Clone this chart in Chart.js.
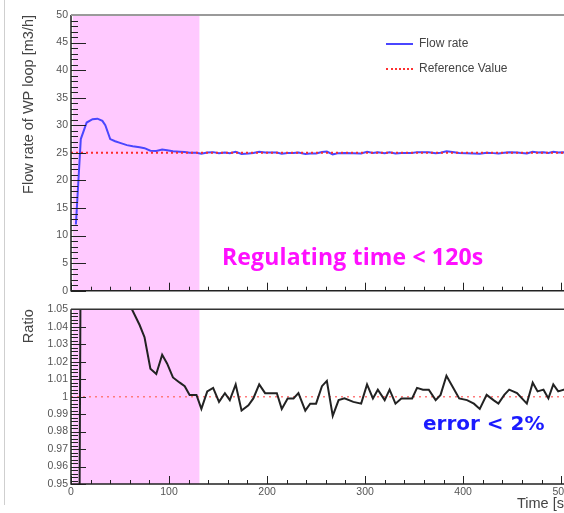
<!DOCTYPE html>
<html>
<head>
<meta charset="utf-8">
<script src="https://cdn.jsdelivr.net/npm/chart.js@4.4.1/dist/chart.umd.min.js"></script>
<style>
  html, body { margin: 0; padding: 0; background: #fff; overflow: hidden; }
  #wrap { position: relative; width: 564px; height: 513px; overflow: hidden; }
  canvas { position: absolute; left: 0; }
  #flowChart { top: 0; }
  #ratioChart { top: 300px; }
  .edge { position: absolute; left: 4px; top: 0; width: 1px; height: 505px; background: #cfcfcf; }
  .legend { position: absolute; left: 386px; font-family: 'Liberation Sans', Arial, sans-serif; font-size: 12px; color: #444; line-height: 14px; }
  .legend span.key { display: inline-block; width: 27px; height: 0; vertical-align: middle; margin-right: 6px; }
  .note { position: absolute; font-weight: bold; white-space: nowrap; line-height: 1; }
</style>
</head>
<body>
<div id="wrap">
  <canvas id="flowChart" width="580" height="300"></canvas>
  <canvas id="ratioChart" width="580" height="213"></canvas>
  <div class="edge"></div>
  <div class="legend" style="top:36px"><span class="key" style="border-top:2px solid #4a46ff"></span>Flow rate</div>
  <div class="legend" style="top:61px"><span class="key" style="border-top:2px dotted #ff3030"></span>Reference Value</div>
  <div class="note" style="left:222px; top:245px; font-size:23px; letter-spacing:0.15px; color:#ff10ff; font-family:'Open Sans', Lato, sans-serif">Regulating time &lt; 120s</div>
  <div class="note" style="left:423px; top:413px; font-size:20px; color:#1a1aff; font-family:'DejaVu Sans', Verdana, sans-serif">error &lt; 2%</div>
</div>
<script>
// 数据
const times = [5, 10, 16, 22, 27, 32, 35, 40, 45, 50,
  57, 63, 70, 75, 81, 87, 93, 98, 104, 111,
  116, 121, 128, 133, 139, 145, 151, 157, 162, 168,
  174, 181, 186, 192, 198, 204, 210, 215, 221, 227,
  232, 239, 244, 250, 256, 261, 267, 273, 279, 288,
  296, 302, 308, 313, 320, 325, 331, 337, 348, 353,
  359, 365, 372, 377, 383, 389, 396, 404, 411, 417,
  424, 431, 436, 442, 447, 455, 465, 471, 476, 482,
  487, 492, 497, 503, 508];

const flowRate = [12.0, 27.5, 30.5, 31.1, 31.2, 30.8, 30.0, 27.5, 27.1, 26.8,
  26.4, 26.2, 26.0, 25.85, 25.4, 25.33, 25.6, 25.48, 25.28, 25.2,
  25.15, 25.03, 25.03, 24.83, 25.08, 25.13, 24.93, 25.05, 24.95, 25.18,
  24.8, 24.88, 24.98, 25.18, 25.05, 25.05, 25.05, 24.83, 24.98, 24.98,
  25.05, 24.8, 24.9, 24.9, 25.15, 25.23, 24.73, 24.95, 24.98, 24.93,
  24.9, 25.18, 24.98, 25.1, 24.95, 25.1, 24.9, 24.98, 24.98, 25.13,
  25.1, 25.1, 24.95, 25.03, 25.3, 25.15, 24.98, 24.95, 24.9, 24.83,
  25.03, 24.95, 24.9, 25.03, 25.1, 25.05, 24.9, 25.2, 25.08, 25.1,
  24.98, 25.18, 25.08, 25.1, 25.05];

const ratio = [0.48, 1.10, 1.22, 1.244, 1.248, 1.232, 1.20, 1.10, 1.084, 1.072,
  1.056, 1.049, 1.041, 1.034, 1.016, 1.013, 1.024, 1.019, 1.011, 1.008,
  1.006, 1.001, 1.001, 0.993, 1.003, 1.005, 0.997, 1.002, 0.998, 1.007,
  0.992, 0.995, 0.999, 1.007, 1.002, 1.002, 1.002, 0.993, 0.999, 0.999,
  1.002, 0.992, 0.996, 0.996, 1.006, 1.009, 0.989, 0.998, 0.999, 0.997,
  0.996, 1.007, 0.999, 1.004, 0.998, 1.004, 0.996, 0.999, 0.999, 1.005,
  1.004, 1.004, 0.998, 1.001, 1.012, 1.006, 0.999, 0.998, 0.996, 0.993,
  1.001, 0.998, 0.996, 1.001, 1.004, 1.002, 0.996, 1.008, 1.003, 1.004,
  0.999, 1.007, 1.003, 1.004, 1.002];

const referenceValue = 25;
const referenceRatio = 1;
const regulatingWindow = [2, 131];   // 粉色调节区间 [s]
const timeRange = [0, 507];
const flowRange = [0, 50];
const ratioRange = [0.95, 1.05];

// 刻度标签
const timeTicks = [0, 100, 200, 300, 400, 500];
const flowTicks = [0, 5, 10, 15, 20, 25, 30, 35, 40, 45, 50];
const ratioTicks = [0.95, 0.96, 0.97, 0.98, 0.99, 1, 1.01, 1.02, 1.03, 1.04, 1.05];

const labelFont = { family: "'Liberation Sans', Arial, sans-serif", size: 10.5 };
const titleFont = { family: "'Liberation Sans', Arial, sans-serif", size: 14.5 };

// 粉色区间 + ROOT 风格的内侧刻度和边框
const panelDeco = {
  id: 'panelDeco',
  beforeDatasetsDraw(chart, args, opts) {
    const { ctx, chartArea: a, scales: { x } } = chart;
    const x0 = x.getPixelForValue(regulatingWindow[0]);
    const x1 = x.getPixelForValue(regulatingWindow[1]);
    ctx.save();
    ctx.fillStyle = '#ffc9ff';
    ctx.fillRect(x0, a.top, x1 - x0, a.bottom - a.top);
    ctx.restore();
  },
  afterDatasetsDraw(chart, args, opts) {
    const { ctx, chartArea: a, scales: { x, y } } = chart;
    ctx.save();
    ctx.strokeStyle = '#222';
    ctx.lineWidth = 1;
    ctx.beginPath();
    // y 轴刻度
    const ny = Math.round((y.max - y.min) / opts.yMinor);
    for (let i = 0; i <= ny; i++) {
      const py = Math.round(y.getPixelForValue(y.min + i * opts.yMinor)) + 0.5;
      const len = i % opts.yEvery === 0 ? 15 : 7;
      ctx.moveTo(a.left, py);
      ctx.lineTo(a.left + len, py);
    }
    // x 轴刻度
    const nx = Math.floor((x.max - x.min) / 20);
    for (let i = 0; i <= nx; i++) {
      const px = Math.round(x.getPixelForValue(x.min + i * 20)) + 0.5;
      const len = i % 5 === 0 ? 8 : 4;
      ctx.moveTo(px, a.bottom);
      ctx.lineTo(px, a.bottom - len);
    }
    ctx.stroke();
    // 边框
    ctx.lineWidth = 1.5;
    ctx.strokeStyle = '#222';
    ctx.beginPath();
    ctx.moveTo(a.left, a.top);
    ctx.lineTo(a.left, a.bottom);
    ctx.lineTo(a.right, a.bottom);
    ctx.stroke();
    ctx.lineWidth = opts.topWidth;
    ctx.strokeStyle = opts.topColor;
    ctx.beginPath();
    ctx.moveTo(a.left, a.top);
    ctx.lineTo(a.right, a.top);
    ctx.stroke();
    ctx.restore();
  }
};

const fixWidth = (w) => (scale) => { scale.width = w; };
const fixHeight = (h) => (scale) => { scale.height = h; };
const useTicks = (list) => (scale) => { scale.ticks = list.map(v => ({ value: v })); };

// 上图: 流量
new Chart(document.getElementById('flowChart'), {
  type: 'line',
  data: {
    datasets: [
      {
        label: 'Reference Value',
        data: [{ x: timeRange[0], y: referenceValue }, { x: timeRange[1], y: referenceValue }],
        borderColor: '#ff2a2a',
        borderWidth: 2,
        borderDash: [2, 3],
        pointRadius: 0,
        order: 0
      },
      {
        label: 'Flow rate',
        data: times.map((t, i) => ({ x: t, y: flowRate[i] })),
        borderColor: '#4a46ff',
        borderWidth: 2,
        pointRadius: 0,
        tension: 0,
        order: 1
      }
    ]
  },
  options: {
    responsive: false,
    animation: false,
    layout: { padding: { top: 15, right: 12, bottom: 3, left: 0 } },
    scales: {
      x: {
        type: 'linear', display: false,
        min: timeRange[0], max: timeRange[1]
      },
      y: {
        type: 'linear',
        min: flowRange[0], max: flowRange[1],
        grid: { display: false, drawTicks: false },
        border: { display: false },
        afterBuildTicks: useTicks(flowTicks),
        ticks: { padding: 3, color: '#555', font: labelFont, autoSkip: false },
        title: {
          display: true, text: 'Flow rate of WP loop [m3/h]', align: 'end',
          color: '#444', font: titleFont, padding: { top: 20, bottom: 0 }
        },
        afterFit: fixWidth(71)
      }
    },
    plugins: {
      legend: { display: false },
      tooltip: { enabled: false },
      panelDeco: { yMinor: 1, yEvery: 5, topColor: '#9a9a9a', topWidth: 2 }
    }
  },
  plugins: [panelDeco]
});

// 下图: 比值
new Chart(document.getElementById('ratioChart'), {
  type: 'line',
  data: {
    datasets: [
      {
        label: 'Reference',
        data: [{ x: timeRange[0], y: referenceRatio }, { x: timeRange[1], y: referenceRatio }],
        borderColor: '#ff7a7a',
        borderWidth: 1.5,
        borderDash: [2, 4],
        pointRadius: 0,
        order: 1
      },
      {
        label: 'Ratio',
        data: times.map((t, i) => ({ x: t, y: ratio[i] })),
        borderColor: '#222',
        borderWidth: 2,
        pointRadius: 0,
        tension: 0,
        order: 0
      }
    ]
  },
  options: {
    responsive: false,
    animation: false,
    layout: { padding: { top: 7, right: 12, bottom: 0, left: 0 } },
    scales: {
      x: {
        type: 'linear',
        min: timeRange[0], max: timeRange[1],
        grid: { display: false, drawTicks: false },
        border: { display: false },
        afterBuildTicks: useTicks(timeTicks),
        ticks: { padding: 2, color: '#555', font: labelFont, maxRotation: 0, autoSkip: false },
        title: {
          display: true, text: 'Time [s]', align: 'end',
          color: '#444', font: titleFont, padding: { top: 0, bottom: 0 }
        },
        afterFit: fixHeight(29)
      },
      y: {
        type: 'linear',
        min: ratioRange[0], max: ratioRange[1],
        grid: { display: false, drawTicks: false },
        border: { display: false },
        afterBuildTicks: useTicks(ratioTicks),
        ticks: {
          padding: 3, color: '#555', font: labelFont, autoSkip: false,
          callback: (v) => String(Number(v.toFixed(2)))
        },
        title: {
          display: true, text: 'Ratio', align: 'end',
          color: '#444', font: titleFont, padding: { top: 20, bottom: 0 }
        },
        afterFit: fixWidth(71)
      }
    },
    plugins: {
      legend: { display: false },
      tooltip: { enabled: false },
      panelDeco: { yMinor: 0.002, yEvery: 5, topColor: '#333', topWidth: 1.5 }
    }
  },
  plugins: [panelDeco]
});
</script>
</body>
</html>
